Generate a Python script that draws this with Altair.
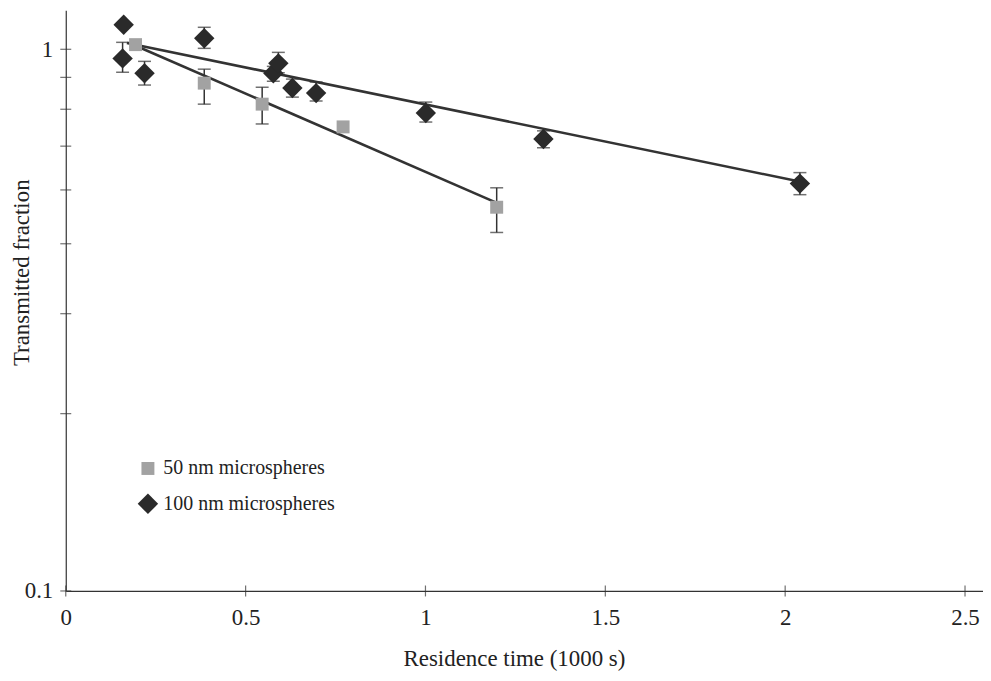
import altair as alt
import pandas as pd

# ---- data ----
series_names = ["50 nm microspheres", "100 nm microspheres"]

# 50 nm microspheres
x50 = [0.194, 0.385, 0.546, 0.771, 1.198]
y50 = [1.02, 0.866, 0.792, 0.719, 0.511]
lo50 = [None, 0.792, 0.728, None, 0.459]
hi50 = [None, 0.919, 0.851, None, 0.555]

# 100 nm microspheres
x100 = [0.161, 0.158, 0.219, 0.385, 0.577, 0.591, 0.630, 0.696, 1.001, 1.328, 2.041]
y100 = [1.11, 0.962, 0.903, 1.048, 0.903, 0.942, 0.848, 0.830, 0.763, 0.683, 0.565]
lo100 = [None, 0.907, 0.859, 1.004, 0.873, 0.905, 0.816, 0.803, 0.734, 0.658, 0.539]
hi100 = [None, 1.030, 0.950, 1.098, 0.930, 0.987, 0.881, 0.870, 0.799, 0.707, 0.592]

# fitted lines (end points)
fit50_x = [0.18, 1.20]
fit50_y = [1.025, 0.52]
fit100_x = [0.17, 2.04]
fit100_y = [1.027, 0.57]

# axis ticks
x_ticks = [0, 0.5, 1, 1.5, 2, 2.5]
y_ticks = [0.1, 0.2125, 0.325, 0.4375, 0.55, 0.6625, 0.775, 0.8875, 1.0]

X_DOMAIN = [0, 2.55]
Y_DOMAIN = [0.1, 1.18]
W, H = 921, 583
FONT = "Liberation Serif"

pts = pd.DataFrame(
    {"x": x50 + x100, "y": y50 + y100,
     "lo": lo50 + lo100, "hi": hi50 + hi100,
     "series": [series_names[0]] * len(x50) + [series_names[1]] * len(x100)}
)
err = pts.dropna(subset=["lo", "hi"])
fits = pd.DataFrame(
    {"x": fit50_x + fit100_x, "y": fit50_y + fit100_y,
     "series": [series_names[0]] * 2 + [series_names[1]] * 2}
)
xt = pd.DataFrame({"v": x_ticks})
yt = pd.DataFrame({"v": y_ticks})

xs = alt.Scale(domain=X_DOMAIN, nice=False, zero=False)
ys = alt.Scale(type="log", domain=Y_DOMAIN, nice=False)

x_axis = alt.Axis(values=x_ticks, ticks=False, grid=False, labelFont=FONT,
                  format="~g", labelFlush=False, labelOverlap=False,
                  labelFontSize=23, labelColor="#222", labelPadding=16,
                  domainColor="#333", domainWidth=1.2,
                  title="Residence time (1000 s)", titleFont=FONT,
                  titleFontSize=23, titleFontWeight="normal", titleColor="#222",
                  titleX=450, titleY=68, titleBaseline="middle")
y_axis = alt.Axis(values=y_ticks, ticks=False, grid=False, labelFont=FONT,
                  labelFontSize=23, labelColor="#222", labelPadding=13,
                  labelFlush=False, labelOverlap=False,
                  labelExpr="datum.value > 0.99 ? '1' : (datum.value < 0.11 ? '0.1' : '')",
                  domainColor="#333", domainWidth=1.2,
                  title="Transmitted fraction", titleFont=FONT,
                  titleFontSize=23, titleFontWeight="normal", titleColor="#222",
                  titleX=-44, titleY=263, titleAngle=270, titleAlign="center",
                  titleBaseline="middle")

base_x = alt.X("x:Q", scale=xs, axis=x_axis)
base_y = alt.Y("y:Q", scale=ys, axis=y_axis)

# crossing tick marks
xtick_layer = alt.Chart(xt).mark_tick(orient="vertical", size=11, thickness=1.2, color="#333").encode(
    x=alt.X("v:Q", scale=xs, axis=x_axis), y=alt.value(H)
)
ytick_layer = alt.Chart(yt).mark_tick(orient="horizontal", size=11, thickness=1.2, color="#333").encode(
    y=alt.Y("v:Q", scale=ys, axis=y_axis), x=alt.value(0)
)

err_rule = alt.Chart(err).mark_rule(color="#333", strokeWidth=1.5).encode(
    x=base_x, y=alt.Y("lo:Q", scale=ys, axis=y_axis), y2="hi:Q"
)
cap_lo = alt.Chart(err).mark_tick(orient="horizontal", size=13, thickness=1.5, color="#333").encode(
    x=base_x, y=alt.Y("lo:Q", scale=ys, axis=y_axis)
)
cap_hi = alt.Chart(err).mark_tick(orient="horizontal", size=13, thickness=1.5, color="#333").encode(
    x=base_x, y=alt.Y("hi:Q", scale=ys, axis=y_axis)
)

fit_lines = alt.Chart(fits).mark_line(color="#333", strokeWidth=2.6).encode(
    x=base_x, y=base_y, detail="series:N"
)

legend = alt.Legend(title=None, orient="none", legendX=72, legendY=450,
                    labelFont=FONT, labelFontSize=20, labelColor="#222",
                    labelLimit=400, padding=0, rowPadding=15, labelOffset=5,
                    labelExpr="datum.label == '100 nm microspheres' ? '\u00a0' + datum.label : datum.label",
                    symbolStrokeWidth=0)

points = alt.Chart(pts).mark_point(filled=True, opacity=1, strokeWidth=0).encode(
    x=base_x, y=base_y,
    color=alt.Color("series:N", scale=alt.Scale(domain=series_names, range=["#a2a2a2", "#2a2a2a"]), legend=legend),
    shape=alt.Shape("series:N", scale=alt.Scale(domain=series_names, range=["square", "diamond"]), legend=legend),
    size=alt.Size("series:N", scale=alt.Scale(domain=series_names, range=[169, 420]), legend=legend),
)

chart = alt.layer(xtick_layer, ytick_layer, err_rule, cap_lo, cap_hi, fit_lines, points).properties(
    width=W, height=H,
    background="white",
    autosize=alt.AutoSizeParams(type="none"),
    padding={"left": 58, "top": 1, "right": 0, "bottom": 80},
).configure_view(stroke=None)

chart.save("out.html", embed_options={"renderer": "svg", "actions": False})
